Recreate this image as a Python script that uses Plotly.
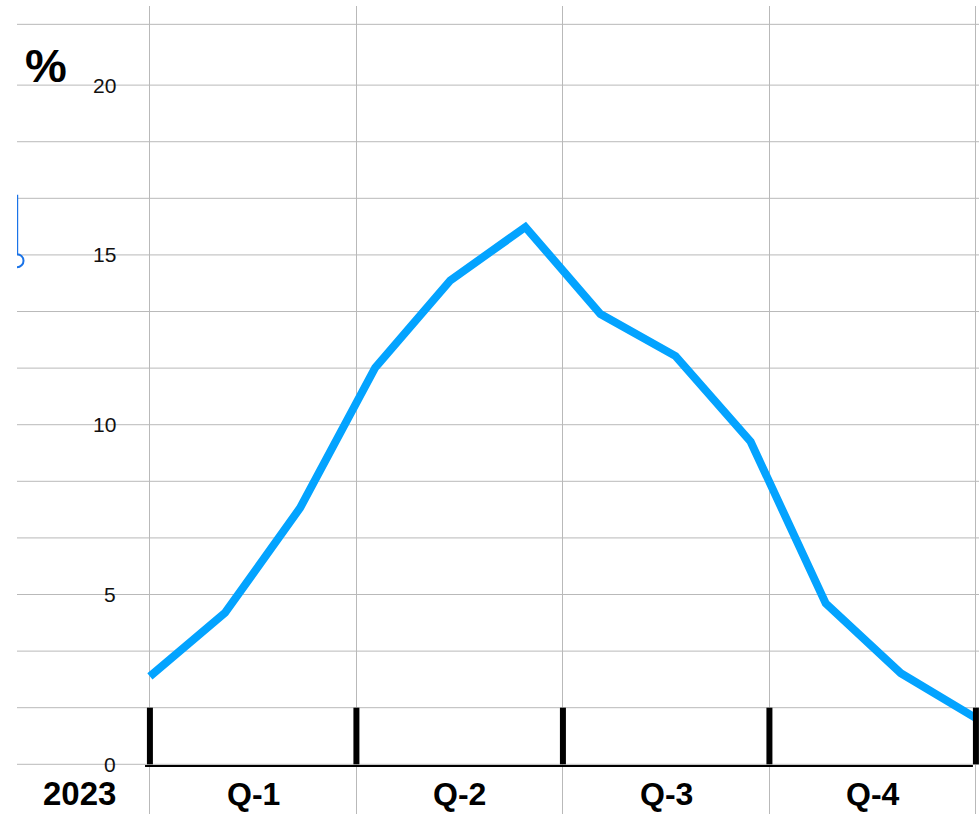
import plotly.graph_objects as go

# Monthly share (%) over 2023
months = ["Jan", "Feb", "Mar", "Apr", "May", "Jun",
          "Jul", "Aug", "Sep", "Oct", "Nov", "Dec"]
share_pct = [2.59, 4.46, 7.55, 11.68, 14.25, 15.82,
             13.26, 12.02, 9.50, 4.74, 2.68, 1.36]

year_label = "2023"
quarter_labels = ["Q-1", "Q-2", "Q-3", "Q-4"]
y_tick_values = [0, 5, 10, 15, 20]

n = len(months)
x_vals = list(range(n))
span = n - 1
quarter_edges = [span * k / 4 for k in range(5)]
quarter_mids = [(quarter_edges[k] + quarter_edges[k + 1]) / 2 for k in range(4)]

FONT = "Liberation Sans, Arial, Helvetica, sans-serif"
LINE_BLUE = "#03A3FF"
GRID = "#b9b9b9"

X_RANGE = [-1.770, 11.041]
Y_RANGE = [-1.4635, 22.33]
GRID_STEP = 5 / 3
LABEL_X = -0.425
BOTTOM_LABEL_Y = -0.86

# horizontal rules: every 5/3 up to 20, plus a top rule
h_rules = [GRID_STEP * k for k in range(13)] + [21.79]

fig = go.Figure()
fig.add_trace(go.Scatter(
    x=x_vals, y=share_pct, mode="lines",
    line=dict(color=LINE_BLUE, width=8),
    hoverinfo="skip", showlegend=False,
))

shapes = []
for h in h_rules:
    shapes.append(dict(type="line", xref="paper", yref="y",
                       x0=0, x1=1, y0=h, y1=h,
                       line=dict(color=GRID, width=1), layer="below"))
# Heavy quarter ticks rising from the baseline
for q in quarter_edges:
    shapes.append(dict(type="line", xref="x", yref="y",
                       x0=q, x1=q, y0=0, y1=GRID_STEP,
                       line=dict(color="black", width=6), layer="above"))
# Baseline
shapes.append(dict(type="line", xref="x", yref="y",
                   x0=-0.065, x1=10.96, y0=-0.05, y1=-0.05,
                   line=dict(color="black", width=2), layer="above"))
# Small blue handle at the left edge
shapes.append(dict(type="line", xref="x", yref="y",
                   x0=X_RANGE[0] + 0.006, x1=X_RANGE[0] + 0.006, y0=16.77, y1=15.03,
                   line=dict(color="#1a73e8", width=1.5)))
shapes.append(dict(type="circle", xref="x", yref="y",
                   x0=X_RANGE[0] - 0.087, x1=X_RANGE[0] + 0.087,
                   y0=14.83 - 0.19, y1=14.83 + 0.19,
                   line=dict(color="#1a73e8", width=2)))

annotations = []
for v in y_tick_values:
    annotations.append(dict(
        x=LABEL_X, y=v, xref="x", yref="y", text=str(v),
        showarrow=False, xanchor="right", yanchor="middle",
        font=dict(family=FONT, size=21, color="#111111")))
annotations.append(dict(
    x=LABEL_X, y=BOTTOM_LABEL_Y, xref="x", yref="y", text=f"<b>{year_label}</b>",
    showarrow=False, xanchor="right", yanchor="middle",
    font=dict(family=FONT, size=33, color="black")))
for q_mid, q_lab in zip(quarter_mids, quarter_labels):
    annotations.append(dict(
        x=q_mid, y=BOTTOM_LABEL_Y, xref="x", yref="y", text=f"<b>{q_lab}</b>",
        showarrow=False, xanchor="center", yanchor="middle",
        font=dict(family=FONT, size=32, color="black")))
annotations.append(dict(
    x=-1.384, y=20.59, xref="x", yref="y", text="<b>%</b>",
    showarrow=False, xanchor="center", yanchor="middle",
    font=dict(family=FONT, size=47, color="black")))

fig.update_layout(
    width=979, height=814, autosize=False,
    margin=dict(l=17, r=0, t=6, b=0),
    paper_bgcolor="white", plot_bgcolor="white",
    shapes=shapes, annotations=annotations,
    xaxis=dict(range=X_RANGE, tickmode="array", tickvals=quarter_edges,
               showticklabels=False, ticks="", showgrid=True,
               gridcolor=GRID, gridwidth=1, zeroline=False, showline=False,
               fixedrange=True),
    yaxis=dict(range=Y_RANGE, showticklabels=False, ticks="", showgrid=False,
               zeroline=False, showline=False, fixedrange=True),
)

fig.write_html("out.html", config={"displayModeBar": False})
